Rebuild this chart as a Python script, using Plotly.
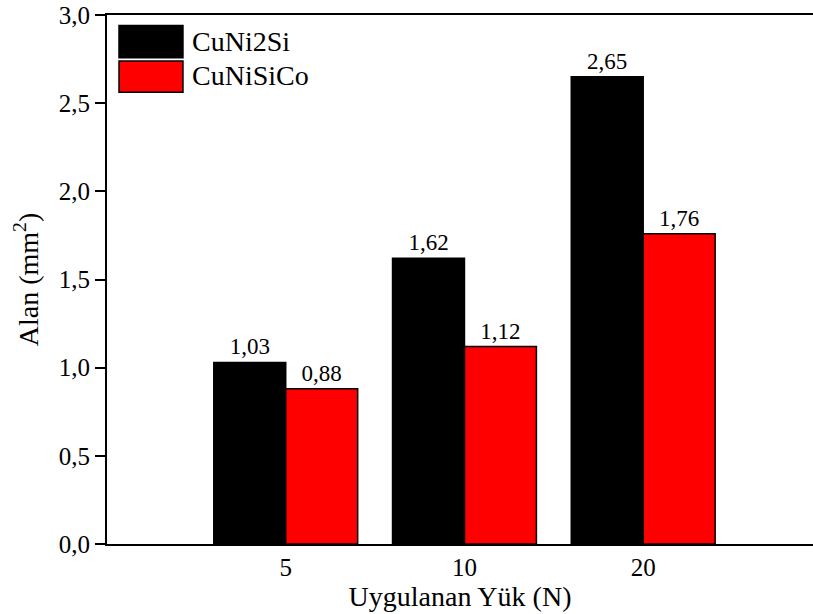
import plotly.graph_objects as go

# Applied load categories and measured wear-track area (mm^2)
loads = ["5", "10", "20"]
series_names = ["CuNi2Si", "CuNiSiCo"]
cuni2si = [1.03, 1.62, 2.65]
cunisico = [0.88, 1.12, 1.76]
colors = ["#000000", "#ff0000"]
y_ticks = [0.0, 0.5, 1.0, 1.5, 2.0, 2.5, 3.0]

FONT = "Liberation Serif, Times New Roman, serif"

fig = go.Figure()
for name, vals, col in zip(series_names, [cuni2si, cunisico], colors):
    fig.add_trace(go.Bar(
        x=loads, y=vals, name=name,
        marker=dict(color=col, line=dict(color="#000000", width=1.5)),
        texttemplate="%{y:.2f}", textposition="outside",
        textfont=dict(family=FONT, size=23, color="#000000"),
        cliponaxis=False,
    ))

fig.update_layout(
    width=813, height=614,
    margin=dict(l=107, r=0, t=15, b=70),
    paper_bgcolor="white", plot_bgcolor="white",
    barmode="group", bargap=0.195, bargroupgap=0,
    separators=", ",
    showlegend=False,
    font=dict(family=FONT, color="#000000"),
    xaxis=dict(
        type="category", range=[-1.0, 2.95],
        showline=True, linecolor="#000000", linewidth=2, mirror=True,
        ticks="", showgrid=False, zeroline=False,
        tickfont=dict(family=FONT, size=25),
        title=dict(text="Uygulanan Yük (N)", font=dict(family=FONT, size=28), standoff=0),
    ),
    yaxis=dict(
        range=[0, 3.0], tickvals=y_ticks, tickformat=".1f",
        showline=True, linecolor="#000000", linewidth=2,
        ticks="outside", ticklen=10, tickwidth=2, tickcolor="#000000",
        showgrid=False, zeroline=False,
        tickfont=dict(family=FONT, size=25),
        title=dict(text="Alan (mm<sup>2</sup>)", font=dict(family=FONT, size=28), standoff=12),
    ),
)

# Legend drawn with large swatches
legend_rows = [(0.980, 0.919, 0.949), (0.913, 0.854, 0.885)]
for (y1, y0, ymid), name, col in zip(legend_rows, series_names, colors):
    fig.add_shape(type="rect", xref="paper", yref="paper",
                  x0=0.017, x1=0.1076, y0=y0, y1=y1,
                  fillcolor=col, line=dict(color="#000000", width=1.5))
    fig.add_annotation(xref="paper", yref="paper", x=0.1176, y=ymid,
                       text=name, showarrow=False, xanchor="left", yanchor="middle",
                       font=dict(family=FONT, size=28, color="#000000"))

fig.write_html("out.html")
